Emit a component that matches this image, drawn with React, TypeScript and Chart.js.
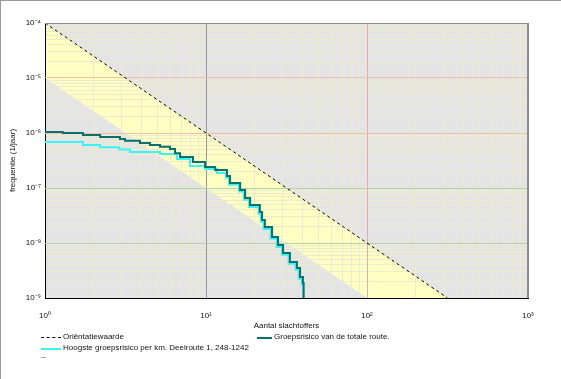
import React, { useEffect, useRef } from 'react';
import { Chart, registerables } from 'chart.js';

Chart.register(...registerables);

// ---- data ----
const X_DECADES = [1, 10, 100, 1000];
const X_TICK_LABELS = ['10⁰', '10¹', '10²', '10³'];
const Y_DECADES = [1e-9, 1e-8, 1e-7, 1e-6, 1e-5, 1e-4];
const Y_TICK_LABELS = ['10⁻⁹', '10⁻⁸', '10⁻⁷', '10⁻⁶', '10⁻⁵', '10⁻⁴'];

// Oriëntatiewaarde (upper limit of the band)
const ORIENT_N = [1, 316.2];
const ORIENT_F = [1e-4, 1e-9];
// lower limit of the yellow band
const BAND_LOWER_N = [1, 100];
const BAND_LOWER_F = [1e-5, 1e-9];

// Groepsrisico van de totale route
const TOTAL_N = [1, 1.29, 1.72, 2.2, 2.92, 3.14, 3.89, 4.49, 5.18, 5.97, 6.42, 6.9, 8.3, 9.86, 11.4, 13.5, 14.1, 16.3, 17.5, 18.8, 21.6, 22.3, 23.2, 25.7, 28.0, 30.1, 33.2, 36.7, 38.4, 40.0, 40.4];
const TOTAL_F = [1.04e-6, 1.0e-6, 9.2e-7, 8.5e-7, 7.8e-7, 7.2e-7, 6.6e-7, 6.05e-7, 5.6e-7, 5.1e-7, 4.3e-7, 3.66e-7, 2.97e-7, 2.41e-7, 2.12e-7, 1.65e-7, 1.23e-7, 9.2e-8, 6.6e-8, 4.9e-8, 3.66e-8, 2.62e-8, 1.95e-8, 1.29e-8, 9.2e-9, 6.6e-9, 4.5e-9, 3.5e-9, 2.41e-9, 1.87e-9, 1e-9];

// Hoogste groepsrisico per km. Deelroute 1, 248-1242
const KM_N = [1, 1.72, 2.2, 2.9, 3.37, 5.18, 6.6, 7.95, 9.86, 11.7, 13.3, 13.9, 16.0, 17.2, 18.5, 21.2, 21.9, 22.8, 25.2, 27.5, 29.6, 32.6, 36.0, 37.7, 39.3, 40.2];
const KM_F = [6.85e-7, 6.05e-7, 5.5e-7, 5.0e-7, 4.5e-7, 4.15e-7, 3.37e-7, 2.5e-7, 2.22e-7, 1.87e-7, 1.53e-7, 1.14e-7, 8.6e-8, 6.1e-8, 4.5e-8, 3.4e-8, 2.44e-8, 1.8e-8, 1.2e-8, 8.5e-9, 6.1e-9, 4.2e-9, 3.25e-9, 2.24e-9, 1.74e-9, 1e-9];

const FONT = 'Liberation Sans, Arial, sans-serif';
const TEAL = '#0b6f6b';
const CYAN = '#3ff2f2';
const MINOR = '#ebebcf';
const X_MAJOR_COLORS = ['#a0a0a0', '#979797', '#e2acac', '#a0a0a0'];
const Y_MAJOR_COLORS = ['#a0a0a0', '#b4d2a4', '#b4d2a4', '#efc2a6', '#efc2a6', '#a0a0a0'];

const toPts = (xs: number[], ys: number[]) => xs.map((x, i) => ({ x, y: ys[i] }));

const decadeIndex = (arr: number[], v: number) =>
  arr.findIndex((d) => Math.abs(Math.log10(d) - Math.log10(v)) < 1e-6);

const buildLogTicks = (decades: number[]) => {
  const t: { value: number }[] = [];
  decades.forEach((d, i) => {
    if (i === decades.length - 1) { t.push({ value: d }); return; }
    for (let k = 1; k <= 9; k++) t.push({ value: d * k });
  });
  return t;
};

const align1 = (p: number) => Math.round(p - 0.5) + 0.5;

const bgPlugin = {
  id: 'bgband',
  beforeDraw(chart: any) {
    const { ctx, chartArea: a, scales } = chart;
    const xs = scales.x, ys = scales.y;
    ctx.save();
    ctx.fillStyle = '#e4e4e4';
    ctx.fillRect(a.left, a.top, a.right - a.left, a.bottom - a.top);
    ctx.beginPath();
    ctx.rect(a.left, a.top, a.right - a.left, a.bottom - a.top);
    ctx.clip();
    ctx.beginPath();
    ORIENT_N.forEach((n, i) => {
      const px = xs.getPixelForValue(n), py = ys.getPixelForValue(ORIENT_F[i]);
      if (i === 0) ctx.moveTo(px, py); else ctx.lineTo(px, py);
    });
    for (let i = BAND_LOWER_N.length - 1; i >= 0; i--) {
      ctx.lineTo(xs.getPixelForValue(BAND_LOWER_N[i]), ys.getPixelForValue(BAND_LOWER_F[i]));
    }
    ctx.closePath();
    ctx.fillStyle = '#ffffc4';
    ctx.fill();
    ctx.restore();
  },
  beforeDatasetsDraw(chart: any) {
    // re-stroke the decade grid lines so minor lines do not interrupt them
    const { ctx, chartArea: a, scales } = chart;
    ctx.save();
    ctx.lineWidth = 1;
    X_DECADES.forEach((d, i) => {
      if (i === 0 || i === X_DECADES.length - 1) return;
      const px = align1(scales.x.getPixelForValue(d));
      ctx.strokeStyle = X_MAJOR_COLORS[i];
      ctx.beginPath(); ctx.moveTo(px, a.top); ctx.lineTo(px, a.bottom); ctx.stroke();
    });
    Y_DECADES.forEach((d, i) => {
      if (i === 0 || i === Y_DECADES.length - 1) return;
      const py = align1(scales.y.getPixelForValue(d));
      ctx.strokeStyle = Y_MAJOR_COLORS[i];
      ctx.beginPath(); ctx.moveTo(a.left, py); ctx.lineTo(a.right, py); ctx.stroke();
    });
    ctx.restore();
  },
  afterDraw(chart: any) {
    const { ctx, chartArea: a } = chart;
    ctx.save();
    ctx.strokeStyle = '#8c8c8c';
    ctx.lineWidth = 1;
    ctx.beginPath();
    ctx.moveTo(a.left, align1(a.top));
    ctx.lineTo(a.right, align1(a.top));
    ctx.stroke();
    ctx.lineWidth = 2;
    ctx.beginPath();
    ctx.moveTo(Math.round(a.right), a.top);
    ctx.lineTo(Math.round(a.right), a.bottom);
    ctx.stroke();
    ctx.restore();
  },
};

export default function App() {
  const ref = useRef<HTMLCanvasElement>(null);

  useEffect(() => {
    if (!ref.current) return;
    Chart.defaults.font.family = FONT;
    const chart = new Chart(ref.current, {
      type: 'line',
      data: {
        datasets: [
          {
            label: 'Groepsrisico van de totale route.',
            data: toPts(TOTAL_N, TOTAL_F),
            borderColor: TEAL,
            borderWidth: 2,
            pointRadius: 0,
            stepped: 'before',
            fill: false,
            order: 0,
          },
          {
            label: 'Hoogste groepsrisico per km. Deelroute 1, 248-1242',
            data: toPts(KM_N, KM_F),
            borderColor: CYAN,
            borderWidth: 2,
            pointRadius: 0,
            stepped: 'before',
            fill: false,
            order: 1,
          },
          {
            label: 'Oriëntatiewaarde',
            data: toPts(ORIENT_N, ORIENT_F),
            borderColor: '#000',
            borderWidth: 1,
            borderDash: [3, 3],
            pointRadius: 0,
            fill: false,
            order: 2,
          },
        ],
      },
      options: {
        responsive: false,
        animation: false,
        layout: { padding: { left: 8, top: 23, right: 33, bottom: 48 } },
        plugins: { legend: { display: false }, tooltip: { enabled: false } },
        scales: {
          x: {
            type: 'logarithmic',
            min: 1,
            max: 1000,
            afterBuildTicks: (s: any) => { s.ticks = buildLogTicks(X_DECADES); },
            afterFit: (s: any) => { s.height = 33; },
            grid: {
              drawTicks: false,
              lineWidth: 1,
              color: (c: any) => {
                const v = c.tick?.value;
                if (v == null) return MINOR;
                const i = decadeIndex(X_DECADES, v);
                return i >= 0 ? X_MAJOR_COLORS[i] : MINOR;
              },
            },
            border: { color: '#000', width: 1 },
            ticks: {
              autoSkip: false,
              maxRotation: 0,
              minRotation: 0,
              padding: 13,
              color: '#111',
              font: { size: 8 },
              callback: (v: any) => {
                const i = decadeIndex(X_DECADES, Number(v));
                return i >= 0 ? X_TICK_LABELS[i] : '';
              },
            },
            title: {
              display: true,
              text: 'Aantal slachtoffers',
              color: '#111',
              font: { size: 8 },
              padding: { top: 0, bottom: 0 },
            },
          },
          y: {
            type: 'logarithmic',
            min: 1e-9,
            max: 1e-4,
            afterBuildTicks: (s: any) => { s.ticks = buildLogTicks(Y_DECADES); },
            afterFit: (s: any) => { s.width = 37; },
            grid: {
              drawTicks: false,
              lineWidth: 1,
              color: (c: any) => {
                const v = c.tick?.value;
                if (v == null) return MINOR;
                const i = decadeIndex(Y_DECADES, v);
                return i >= 0 ? Y_MAJOR_COLORS[i] : MINOR;
              },
            },
            border: { color: '#000', width: 1 },
            ticks: {
              autoSkip: false,
              padding: 4,
              color: '#111',
              font: { size: 8 },
              callback: (v: any) => {
                const i = decadeIndex(Y_DECADES, Number(v));
                return i >= 0 ? Y_TICK_LABELS[i] : '';
              },
            },
            title: {
              display: true,
              text: 'frequentie (1/jaar)',
              color: '#111',
              font: { size: 8 },
              padding: { top: 0, bottom: 0 },
            },
          },
        },
      },
      plugins: [bgPlugin],
    });
    return () => chart.destroy();
  }, []);

  const txt: React.CSSProperties = {
    position: 'absolute',
    font: `8px ${FONT}`,
    lineHeight: '10px',
    color: '#111',
    whiteSpace: 'nowrap',
  };

  return (
    <div style={{ position: 'absolute', left: 0, top: 0, width: 561, height: 379, background: '#fff', overflow: 'hidden' }}>
      <canvas ref={ref} width={561} height={379} style={{ display: 'block', width: 561, height: 379 }} />
      <div style={{ position: 'absolute', left: 0, top: 0, width: 561, height: 1, background: '#9a9a9a' }} />
      <div style={{ position: 'absolute', left: 0, top: 0, width: 1, height: 379, background: '#9a9a9a' }} />
      {/* legend */}
      <div style={{ position: 'absolute', left: 41, top: 337, width: 20, height: 0, borderTop: '1px dashed #000' }} />
      <div style={{ ...txt, left: 63, top: 332 }}>Oriëntatiewaarde</div>
      <div style={{ position: 'absolute', left: 257, top: 336.5, width: 15, height: 2, background: TEAL }} />
      <div style={{ ...txt, left: 274, top: 332 }}>Groepsrisico van de totale route.</div>
      <div style={{ position: 'absolute', left: 41, top: 347.5, width: 20, height: 2, background: CYAN }} />
      <div style={{ ...txt, left: 63, top: 343 }}>Hoogste groepsrisico per km. Deelroute 1, 248-1242</div>
      <div style={{ position: 'absolute', left: 41, top: 357, width: 5, height: 1, background: '#aaa' }} />
    </div>
  );
}
